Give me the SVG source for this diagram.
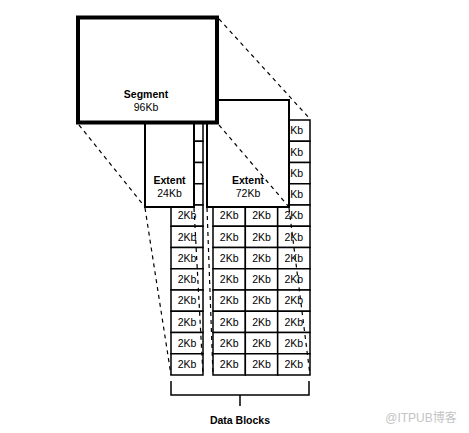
<svg xmlns="http://www.w3.org/2000/svg" width="469" height="433" viewBox="0 0 469 433">
<style>
.cell{fill:#fff;stroke:#000;stroke-width:1.5}
.ct{font-family:"Liberation Sans",Arial,sans-serif;font-size:10.5px;fill:#000;text-anchor:middle}
.box{fill:#fff;stroke:#000;stroke-width:2}
.seg{fill:#fff;stroke:#000;stroke-width:4}
.lb{font-family:"Liberation Sans",Arial,sans-serif;font-size:10.5px;font-weight:bold;fill:#000;text-anchor:middle}
.lt{font-family:"Liberation Sans",Arial,sans-serif;font-size:10.5px;fill:#000;text-anchor:middle}
.dash{fill:none;stroke:#000;stroke-width:1.2;stroke-dasharray:4 4}
.br{fill:none;stroke:#000;stroke-width:1.5}
</style>
<rect width="469" height="433" fill="#fff"/>
<!-- left extent data blocks -->
<g id="blocks-left">
<g id="bL0"><rect class="cell" x="171" y="120" width="32" height="21.25"/></g>
<g id="bL1"><rect class="cell" x="171" y="141.25" width="32" height="21.25"/></g>
<g id="bL2"><rect class="cell" x="171" y="162.5" width="32" height="21.25"/></g>
<g id="bL3"><rect class="cell" x="171" y="183.75" width="32" height="21.25"/></g>
<g id="bL4"><rect class="cell" x="171" y="205" width="32" height="21.25"/><text class="ct" x="187" y="219.3">2Kb</text></g>
<g id="bL5"><rect class="cell" x="171" y="226.25" width="32" height="21.25"/><text class="ct" x="187" y="240.55">2Kb</text></g>
<g id="bL6"><rect class="cell" x="171" y="247.5" width="32" height="21.25"/><text class="ct" x="187" y="261.8">2Kb</text></g>
<g id="bL7"><rect class="cell" x="171" y="268.75" width="32" height="21.25"/><text class="ct" x="187" y="283.05">2Kb</text></g>
<g id="bL8"><rect class="cell" x="171" y="290" width="32" height="21.25"/><text class="ct" x="187" y="304.3">2Kb</text></g>
<g id="bL9"><rect class="cell" x="171" y="311.25" width="32" height="21.25"/><text class="ct" x="187" y="325.55">2Kb</text></g>
<g id="bL10"><rect class="cell" x="171" y="332.5" width="32" height="21.25"/><text class="ct" x="187" y="346.8">2Kb</text></g>
<g id="bL11"><rect class="cell" x="171" y="353.75" width="32" height="21.25"/><text class="ct" x="187" y="368.05">2Kb</text></g>
</g>
<!-- right extent data blocks -->
<g id="blocks-right">
<g id="bA0"><rect class="cell" x="213" y="120" width="32.33" height="21.25"/></g>
<g id="bA1"><rect class="cell" x="213" y="141.25" width="32.33" height="21.25"/></g>
<g id="bA2"><rect class="cell" x="213" y="162.5" width="32.33" height="21.25"/></g>
<g id="bA3"><rect class="cell" x="213" y="183.75" width="32.33" height="21.25"/></g>
<g id="bA4"><rect class="cell" x="213" y="205" width="32.33" height="21.25"/><text class="ct" x="229.2" y="219.3">2Kb</text></g>
<g id="bA5"><rect class="cell" x="213" y="226.25" width="32.33" height="21.25"/><text class="ct" x="229.2" y="240.55">2Kb</text></g>
<g id="bA6"><rect class="cell" x="213" y="247.5" width="32.33" height="21.25"/><text class="ct" x="229.2" y="261.8">2Kb</text></g>
<g id="bA7"><rect class="cell" x="213" y="268.75" width="32.33" height="21.25"/><text class="ct" x="229.2" y="283.05">2Kb</text></g>
<g id="bA8"><rect class="cell" x="213" y="290" width="32.33" height="21.25"/><text class="ct" x="229.2" y="304.3">2Kb</text></g>
<g id="bA9"><rect class="cell" x="213" y="311.25" width="32.33" height="21.25"/><text class="ct" x="229.2" y="325.55">2Kb</text></g>
<g id="bA10"><rect class="cell" x="213" y="332.5" width="32.33" height="21.25"/><text class="ct" x="229.2" y="346.8">2Kb</text></g>
<g id="bA11"><rect class="cell" x="213" y="353.75" width="32.33" height="21.25"/><text class="ct" x="229.2" y="368.05">2Kb</text></g>
<g id="bB0"><rect class="cell" x="245.33" y="120" width="32.33" height="21.25"/></g>
<g id="bB1"><rect class="cell" x="245.33" y="141.25" width="32.33" height="21.25"/></g>
<g id="bB2"><rect class="cell" x="245.33" y="162.5" width="32.33" height="21.25"/></g>
<g id="bB3"><rect class="cell" x="245.33" y="183.75" width="32.33" height="21.25"/></g>
<g id="bB4"><rect class="cell" x="245.33" y="205" width="32.33" height="21.25"/><text class="ct" x="261.5" y="219.3">2Kb</text></g>
<g id="bB5"><rect class="cell" x="245.33" y="226.25" width="32.33" height="21.25"/><text class="ct" x="261.5" y="240.55">2Kb</text></g>
<g id="bB6"><rect class="cell" x="245.33" y="247.5" width="32.33" height="21.25"/><text class="ct" x="261.5" y="261.8">2Kb</text></g>
<g id="bB7"><rect class="cell" x="245.33" y="268.75" width="32.33" height="21.25"/><text class="ct" x="261.5" y="283.05">2Kb</text></g>
<g id="bB8"><rect class="cell" x="245.33" y="290" width="32.33" height="21.25"/><text class="ct" x="261.5" y="304.3">2Kb</text></g>
<g id="bB9"><rect class="cell" x="245.33" y="311.25" width="32.33" height="21.25"/><text class="ct" x="261.5" y="325.55">2Kb</text></g>
<g id="bB10"><rect class="cell" x="245.33" y="332.5" width="32.33" height="21.25"/><text class="ct" x="261.5" y="346.8">2Kb</text></g>
<g id="bB11"><rect class="cell" x="245.33" y="353.75" width="32.33" height="21.25"/><text class="ct" x="261.5" y="368.05">2Kb</text></g>
<g id="bC0"><rect class="cell" x="277.67" y="120" width="32.33" height="21.25"/><text class="ct" x="293.8" y="134.3">2Kb</text></g>
<g id="bC1"><rect class="cell" x="277.67" y="141.25" width="32.33" height="21.25"/><text class="ct" x="293.8" y="155.55">2Kb</text></g>
<g id="bC2"><rect class="cell" x="277.67" y="162.5" width="32.33" height="21.25"/><text class="ct" x="293.8" y="176.8">2Kb</text></g>
<g id="bC3"><rect class="cell" x="277.67" y="183.75" width="32.33" height="21.25"/><text class="ct" x="293.8" y="198.05">2Kb</text></g>
<g id="bC4"><rect class="cell" x="277.67" y="205" width="32.33" height="21.25"/><text class="ct" x="293.8" y="219.3">2Kb</text></g>
<g id="bC5"><rect class="cell" x="277.67" y="226.25" width="32.33" height="21.25"/><text class="ct" x="293.8" y="240.55">2Kb</text></g>
<g id="bC6"><rect class="cell" x="277.67" y="247.5" width="32.33" height="21.25"/><text class="ct" x="293.8" y="261.8">2Kb</text></g>
<g id="bC7"><rect class="cell" x="277.67" y="268.75" width="32.33" height="21.25"/><text class="ct" x="293.8" y="283.05">2Kb</text></g>
<g id="bC8"><rect class="cell" x="277.67" y="290" width="32.33" height="21.25"/><text class="ct" x="293.8" y="304.3">2Kb</text></g>
<g id="bC9"><rect class="cell" x="277.67" y="311.25" width="32.33" height="21.25"/><text class="ct" x="293.8" y="325.55">2Kb</text></g>
<g id="bC10"><rect class="cell" x="277.67" y="332.5" width="32.33" height="21.25"/><text class="ct" x="293.8" y="346.8">2Kb</text></g>
<g id="bC11"><rect class="cell" x="277.67" y="353.75" width="32.33" height="21.25"/><text class="ct" x="293.8" y="368.05">2Kb</text></g>
</g>
<g id="extent24">
<rect class="box" x="145" y="100" width="49" height="107"/>
<text class="lb" x="169.5" y="183.5">Extent</text>
<text class="lt" x="169.5" y="196.5">24Kb</text>
</g>
<g id="extent72">
<rect class="box" x="207" y="100" width="82" height="107"/>
<text class="lb" x="248" y="183.5">Extent</text>
<text class="lt" x="248" y="196.5">72Kb</text>
</g>
<g id="segment">
<rect class="seg" x="78" y="17.5" width="139" height="105"/>
<text class="lb" x="146" y="97.5">Segment</text>
<text class="lt" x="146" y="110.5">96Kb</text>
</g>
<g id="connectors">
<line class="dash" x1="219" y1="19" x2="310" y2="119"/>
<line class="dash" x1="79" y1="125" x2="145" y2="207"/>
<line class="dash" x1="219" y1="125" x2="289" y2="207"/>
<line class="dash" x1="145" y1="208" x2="171" y2="375"/>
<line class="dash" x1="194" y1="208" x2="203" y2="375"/>
<line class="dash" x1="207" y1="208" x2="213" y2="375"/>
<line class="dash" x1="289" y1="208" x2="310" y2="375"/>
<path class="br" d="M171 381 V395 H309 V381 M240 395 V406"/>
</g>
<text class="lb" x="240" y="424">Data Blocks</text>
<text x="421" y="422" font-family="'Liberation Sans','Noto Sans CJK SC',sans-serif" font-size="12" fill="#c4c4c4" text-anchor="middle">@ITPUB博客</text>
</svg>
